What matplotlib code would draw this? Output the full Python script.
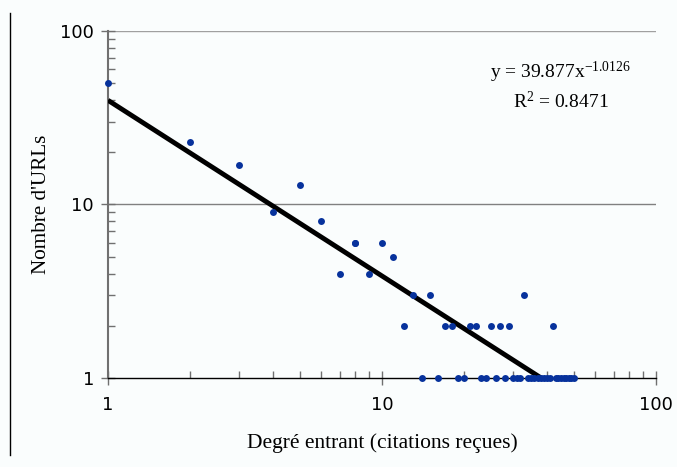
import matplotlib.pyplot as plt
import numpy as np
from matplotlib.lines import Line2D
from matplotlib.ticker import LogLocator, NullFormatter, FixedLocator, FixedFormatter

# in-degree (citations received) vs number of URLs
degree = [1, 2, 3, 4, 5, 6, 7, 8, 8, 9, 10, 11, 12, 13, 15, 17, 18, 21, 22, 25, 27, 29,
          33, 42,
          14, 16, 19, 20, 23, 24, 26, 28, 30, 31, 32, 34, 35, 36, 37, 38, 39, 40, 41,
          43, 44, 45, 46, 47, 48, 49, 50]
n_urls = [50, 23, 17, 9, 13, 8, 4, 6, 6, 4, 6, 5, 2, 3, 3, 2, 2, 2, 2, 2, 2, 2,
          3, 2,
          1, 1, 1, 1, 1, 1, 1, 1, 1, 1, 1, 1, 1, 1, 1, 1, 1, 1, 1,
          1, 1, 1, 1, 1, 1, 1, 1]

# power-law trend
coef_a = 39.877
coef_b = -1.0126
r2 = 0.8471

serif = 'Liberation Serif'
plt.rcParams['mathtext.fontset'] = 'custom'
plt.rcParams['mathtext.rm'] = serif
plt.rcParams['mathtext.it'] = serif
plt.rcParams['mathtext.default'] = 'rm'

bg = '#fafdfd'
fig = plt.figure(figsize=(6.77, 4.67), dpi=100, facecolor=bg)
ax = fig.add_axes([0.1595, 0.1906, 0.8095, 0.743], facecolor=bg)

ax.set_xscale('log')
ax.set_yscale('log')
ax.set_xlim(1, 100)
ax.set_ylim(1, 100)

x_end = coef_a ** (-1.0 / coef_b)
xs = np.logspace(0, np.log10(x_end), 200)
ax.plot(xs, coef_a * xs ** coef_b, color='black', lw=3.5, zorder=3, solid_capstyle='butt')
ax.plot(degree, n_urls, 'o', color='#07329c', ms=5, mec='none', zorder=4, clip_on=False)

ax.axhline(10, color='#808080', lw=1, zorder=1)
ax.axhline(100, color='#a0a0a0', lw=1, zorder=1)

for s in ['top', 'right']:
    ax.spines[s].set_visible(False)
ax.spines['left'].set_color('#707070')
ax.spines['left'].set_linewidth(1.5)
ax.spines['bottom'].set_color('black')
ax.spines['bottom'].set_linewidth(1)

ax.xaxis.set_major_locator(FixedLocator([1, 10, 100]))
ax.xaxis.set_major_formatter(FixedFormatter(['1', '10', '100']))
ax.yaxis.set_major_locator(FixedLocator([1, 10, 100]))
ax.yaxis.set_major_formatter(FixedFormatter(['1', '10', '100']))
ax.xaxis.set_minor_locator(LogLocator(base=10, subs=np.arange(2, 10)))
ax.yaxis.set_minor_locator(LogLocator(base=10, subs=np.arange(2, 10)))
ax.xaxis.set_minor_formatter(NullFormatter())
ax.yaxis.set_minor_formatter(NullFormatter())
ax.tick_params(axis='both', which='major', direction='inout', length=10, width=1,
               color='#707070', pad=8, labelsize=13)
ax.tick_params(axis='y', which='major', pad=5)
ax.tick_params(axis='both', which='minor', direction='in', length=5, width=1, color='#707070')
for lab in ax.get_xticklabels() + ax.get_yticklabels():
    lab.set_family('DejaVu Sans')

ax.set_xlabel('Degré entrant (citations reçues)', family=serif, fontsize=15.5)
ax.set_ylabel("Nombre d'URLs", family=serif, fontsize=15.2)
ax.xaxis.set_label_coords(0.5, -0.158)
ax.yaxis.set_label_coords(-0.104, 0.5)

ax.text(0.826, 0.88, r'y = 39.877x$^{-1.0126}$', transform=ax.transAxes, ha='center',
        va='center', family=serif, fontsize=14)
ax.text(0.826, 0.797, 'R$^2$ = %.4f' % r2, transform=ax.transAxes, ha='center',
        va='center', family=serif, fontsize=14)

# frame line on the left edge
fig.add_artist(Line2D([0.0148, 0.0148], [1 - 455 / 467, 1 - 13 / 467], color='black', lw=1))

fig.savefig('out.png', dpi=100, facecolor=bg)
